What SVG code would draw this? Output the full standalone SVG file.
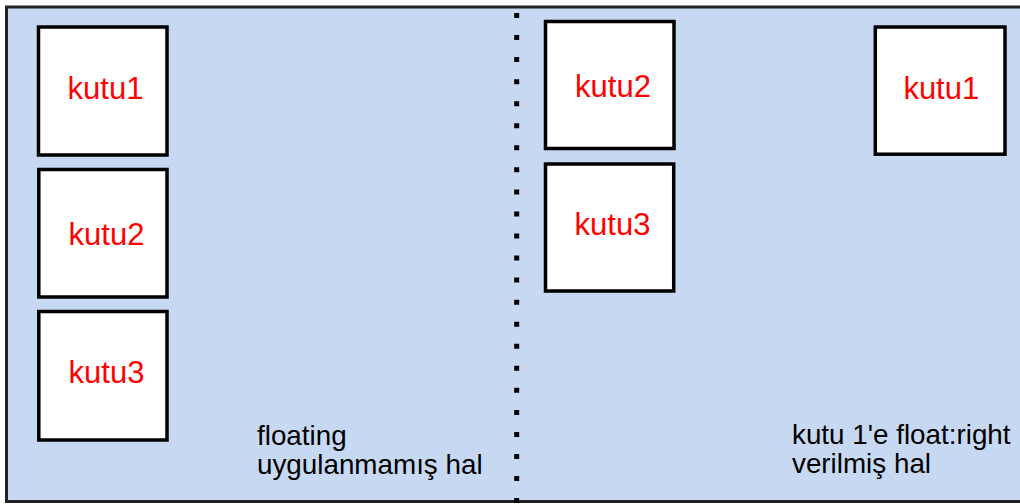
<svg xmlns="http://www.w3.org/2000/svg" width="1020" height="504" viewBox="0 0 1020 504">
  <style>
    .box { fill: #ffffff; stroke: #000000; stroke-width: 3.5; }
    .lbl { font-family: "Liberation Sans", Arial, sans-serif; font-size: 31px; fill: #ff0000; text-anchor: middle; }
    .note { font-family: "Liberation Sans", Arial, sans-serif; font-size: 27.8px; fill: #000000; }
  </style>
  <rect id="container" x="6.5" y="7" width="1030" height="494.5" fill="#c7d9f2" stroke="#222222" stroke-width="3"/>
  <g id="separator">
    <line x1="516.7" y1="13" x2="516.7" y2="504" stroke="#000000" stroke-width="5" stroke-dasharray="5 17.05"/>
  </g>
  <g id="left-kutu1">
    <rect class="box" x="38.5" y="27" width="128.5" height="128"/>
    <text class="lbl" x="105.5" y="99">kutu1</text>
  </g>
  <g id="left-kutu2">
    <rect class="box" x="38.8" y="169.5" width="128.2" height="127.5"/>
    <text class="lbl" x="106.5" y="245">kutu2</text>
  </g>
  <g id="left-kutu3">
    <rect class="box" x="38.8" y="311.5" width="128.2" height="128.5"/>
    <text class="lbl" x="106.5" y="383">kutu3</text>
  </g>
  <g id="left-note">
    <text class="note" x="257" y="444.5">floating</text>
    <text class="note" x="257" y="473.5">uygulanmamış hal</text>
  </g>
  <g id="right-kutu2">
    <rect class="box" x="545.5" y="21.5" width="128.5" height="127"/>
    <text class="lbl" x="613" y="97">kutu2</text>
  </g>
  <g id="right-kutu3">
    <rect class="box" x="545.5" y="164" width="128.2" height="127"/>
    <text class="lbl" x="612.5" y="235">kutu3</text>
  </g>
  <g id="right-kutu1">
    <rect class="box" x="875.3" y="27" width="129.7" height="127.2"/>
    <text class="lbl" x="941.3" y="99">kutu1</text>
  </g>
  <g id="right-note">
    <text class="note" x="792" y="444">kutu 1'e float:right</text>
    <text class="note" x="792" y="472.5">verilmiş hal</text>
  </g>
</svg>
